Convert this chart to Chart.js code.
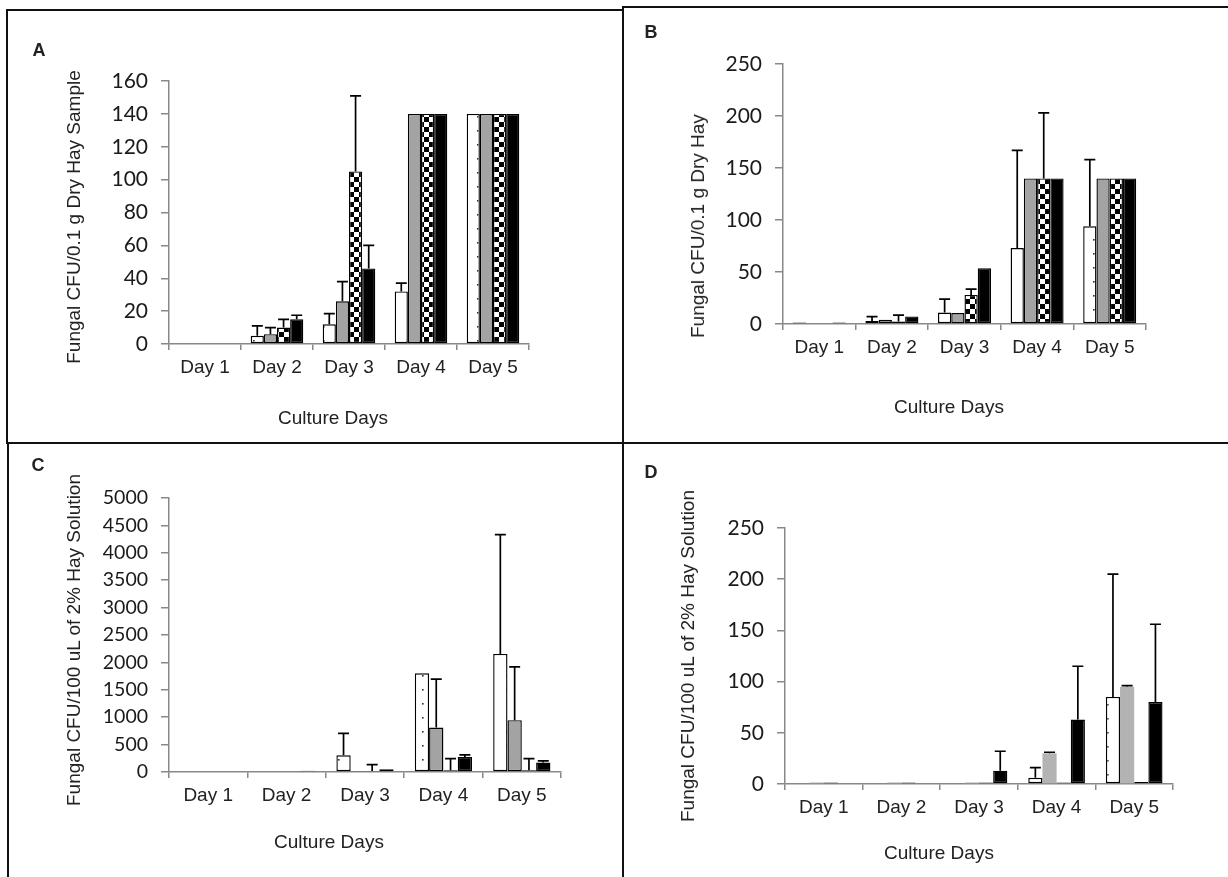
<!DOCTYPE html>
<html>
<head>
<meta charset="utf-8">
<script src="https://cdn.jsdelivr.net/npm/chart.js@4.4.1/dist/chart.umd.min.js"></script>
<style>
body{margin:0;background:#fff;width:1228px;height:877px;position:relative;overflow:hidden;font-family:"Liberation Sans",Arial,sans-serif;color:#222}
.ln{position:absolute;background:#111}
canvas{position:absolute}
.t{position:absolute;font-size:19px;white-space:nowrap;transform:translate(-50%,-50%)}
.yt{transform:translate(-50%,-50%) rotate(-90deg)}
.lt{font-weight:bold;font-size:18px}
</style>
</head>
<body>
<div class="ln" style="left:7px;top:9px;width:616px;height:2px"></div>
<div class="ln" style="left:622px;top:6px;width:606px;height:2px"></div>
<div class="ln" style="left:6px;top:9px;width:2px;height:435px"></div>
<div class="ln" style="left:7px;top:443px;width:2px;height:434px"></div>
<div class="ln" style="left:622px;top:6px;width:2px;height:871px"></div>
<div class="ln" style="left:7px;top:442px;width:1221px;height:2px"></div>

<canvas id="cA" width="612" height="430" style="left:9px;top:12px"></canvas>
<canvas id="cB" width="603" height="433" style="left:625px;top:9px"></canvas>
<canvas id="cC" width="611" height="432" style="left:10px;top:445px"></canvas>
<canvas id="cD" width="603" height="431" style="left:625px;top:446px"></canvas>

<div class="t lt" style="left:39px;top:50px">A</div>
<div class="t yt" style="left:74px;top:217px">Fungal CFU/0.1 g Dry Hay Sample</div>
<div class="t" style="left:333px;top:418px">Culture Days</div>

<div class="t lt" style="left:651px;top:32px">B</div>
<div class="t yt" style="left:698px;top:226px">Fungal CFU/0.1 g Dry Hay</div>
<div class="t" style="left:949px;top:407px">Culture Days</div>

<div class="t lt" style="left:38px;top:465px">C</div>
<div class="t yt" style="left:74px;top:640px">Fungal CFU/100 uL of 2% Hay Solution</div>
<div class="t" style="left:329px;top:842px">Culture Days</div>

<div class="t lt" style="left:651px;top:472px">D</div>
<div class="t yt" style="left:688px;top:656px">Fungal CFU/100 uL of 2% Hay Solution</div>
<div class="t" style="left:939px;top:853px">Culture Days</div>

<script>
const days = ['Day 1', 'Day 2', 'Day 3', 'Day 4', 'Day 5'];

// A - CFU/0.1 g dry hay sample
const aDotted = [0, 5, 12, 32, 140];
const aGray   = [0, 6, 26, 140, 140];
const aCheck  = [0, 10, 105, 140, 140];
const aBlack  = [0, 15, 46, 140, 140];
const aDottedErr = [0, 6, 6.5, 5, 0];
const aGrayErr   = [0, 4, 12, 0, 0];
const aCheckErr  = [0, 5, 46, 0, 0];
const aBlackErr  = [0, 2.5, 14, 0, 0];

// B - CFU/0.1 g dry hay
const bDotted = [1.5, 3, 11, 73, 94];
const bGray   = [0, 4, 10.5, 140, 140];
const bCheck  = [0, 2.5, 28, 140, 140];
const bBlack  = [1.5, 7.3, 53.5, 140, 140];
const bDottedErr = [0, 4, 13, 94, 64];
const bGrayErr   = [0, 0, 0, 0, 0];
const bCheckErr  = [0, 6, 5.5, 63, 0];
const bBlackErr  = [0, 0, 0, 0, 0];

// C - CFU/100 uL of 2% hay solution
const cDotted = [0, 0, 305, 1800, 2155];
const cGray   = [0, 15, 20, 810, 945];
const cCheck  = [0, 0, 20, 30, 30];
const cBlack  = [0, 25, 50, 275, 172];
const cDottedErr = [0, 0, 400, 0, 2175];
const cGrayErr   = [0, 0, 0, 885, 975];
const cCheckErr  = [0, 0, 115, 215, 215];
const cBlackErr  = [0, 0, 0, 36, 30];

// D - CFU/100 uL of 2% hay solution
const dDotted = [0, 0, 0, 6, 85];
const dGray   = [1.5, 1.5, 1.5, 30, 95];
const dCheck  = [1.5, 1.5, 1.5, 1.5, 2];
const dBlack  = [0, 0, 13, 63, 80];
const dDottedErr = [0, 0, 0, 10, 120];
const dGrayErr   = [0, 0, 0, 1, 1];
const dCheckErr  = [0, 0, 0, 0, 0];
const dBlackErr  = [0, 0, 19, 52, 76];

function makePattern(kind) {
  const c = document.createElement('canvas');
  const g = c.getContext('2d');
  if (kind === 'check') {
    c.width = 10; c.height = 10;
    g.fillStyle = '#fff'; g.fillRect(0, 0, 10, 10);
    g.fillStyle = '#000'; g.fillRect(0, 0, 5, 5); g.fillRect(5, 5, 5, 5);
  } else {
    c.width = 14; c.height = 14;
    g.fillStyle = '#fff'; g.fillRect(0, 0, 14, 14);
    g.fillStyle = '#333'; g.fillRect(6, 6, 1.6, 1.6);
  }
  return g.createPattern(c, 'repeat');
}
const dots = makePattern('dots');
const checks = makePattern('check');

const errorBars = {
  id: 'errorBars',
  afterDatasetsDraw(chart) {
    const ctx = chart.ctx;
    const y = chart.scales.y;
    chart.data.datasets.forEach((ds, i) => {
      const meta = chart.getDatasetMeta(i);
      meta.data.forEach((bar, j) => {
        const e = ds.err[j];
        if (!e) return;
        const top = y.getPixelForValue(ds.data[j] + e);
        ctx.save();
        ctx.strokeStyle = '#000';
        ctx.lineWidth = 1.7;
        ctx.beginPath();
        ctx.moveTo(bar.x, bar.y);
        ctx.lineTo(bar.x, top);
        ctx.moveTo(bar.x - 5.5, top);
        ctx.lineTo(bar.x + 5.5, top);
        ctx.stroke();
        ctx.restore();
      });
    });
  }
};

function series(data, err, fill, border) {
  return {
    data: data, err: err,
    backgroundColor: fill,
    borderColor: border || '#000',
    borderWidth: border === 'none' ? 0 : 1.4,
    borderSkipped: false,
    categoryPercentage: 0.73,
    barPercentage: 1
  };
}

function panel(id, sets, max, step, box, tickSize) {
  new Chart(document.getElementById(id), {
    type: 'bar',
    data: { labels: days, datasets: sets },
    options: {
      responsive: false,
      animation: false,
      events: [],
      layout: { padding: { left: 0, top: box.top, right: box.right, bottom: 0 } },
      plugins: { legend: { display: false }, tooltip: { enabled: false } },
      scales: {
        x: {
          grid: { display: true, drawOnChartArea: false, drawTicks: true, tickLength: 6, color: '#888', lineWidth: 1.5, offset: true },
          border: { display: true, color: '#888', width: 1.5 },
          ticks: { color: '#222', padding: 6, font: { family: 'Liberation Sans', size: 19 } },
          afterFit(s) { s.height = box.xh; }
        },
        y: {
          min: 0, max: max,
          grid: { display: true, drawOnChartArea: false, drawTicks: true, tickLength: 8, color: '#888', lineWidth: 1.5 },
          border: { display: true, color: '#888', width: 1.5 },
          ticks: { stepSize: step, color: '#1a1a1a', padding: 13, font: { family: 'Lato', size: tickSize },
                   callback: (v) => String(v) },
          afterFit(s) { s.width = box.yw; }
        }
      }
    },
    plugins: [errorBars]
  });
}

panel('cA', [
  series(aDotted, aDottedErr, dots),
  series(aGray, aGrayErr, '#a3a3a3'),
  series(aCheck, aCheckErr, checks),
  series(aBlack, aBlackErr, '#000')
], 160, 20, { top: 69, right: 92, yw: 160, xh: 98 }, 21);

panel('cB', [
  series(bDotted, bDottedErr, dots),
  series(bGray, bGrayErr, '#a3a3a3'),
  series(bCheck, bCheckErr, checks),
  series(bBlack, bBlackErr, '#000')
], 250, 50, { top: 55, right: 82, yw: 158, xh: 118 }, 21);

panel('cC', [
  series(cDotted, cDottedErr, dots),
  series(cGray, cGrayErr, '#a3a3a3'),
  series(cCheck, cCheckErr, checks),
  series(cBlack, cBlackErr, '#000')
], 5000, 500, { top: 53, right: 60, yw: 159, xh: 105 }, 19.5);

panel('cD', [
  series(dDotted, dDottedErr, dots),
  series(dGray, dGrayErr, '#b3b3b3', 'none'),
  series(dCheck, dCheckErr, checks),
  series(dBlack, dBlackErr, '#000')
], 250, 50, { top: 82, right: 55, yw: 160, xh: 93 }, 21);
</script>
</body>
</html>
